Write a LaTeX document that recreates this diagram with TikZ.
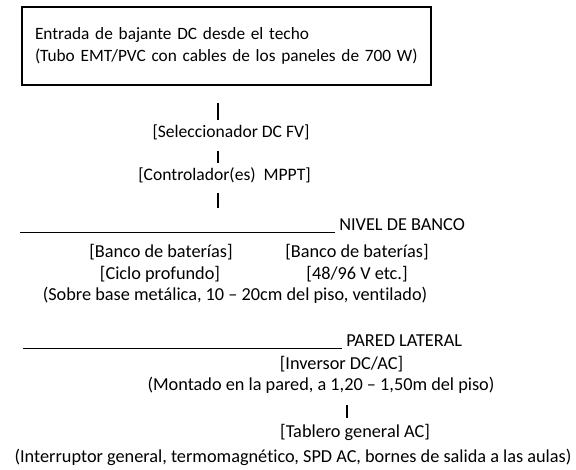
\documentclass[tikz,border=0pt]{standalone}
\usepackage{fontspec}
\setmainfont{Carlito}[Ligatures=NoCommon]
\tikzset{
  txt/.style={inner sep=0pt, anchor=base, font=\fontsize{13}{16}\selectfont},
  toptxt/.style={inner sep=0pt, anchor=base, font=\fontsize{12.5}{15}\selectfont},
  riser/.style={line width=1.2pt},
  levelline/.style={line width=0.7pt}
}
\begin{document}
\begin{tikzpicture}[]
                \useasboundingbox (0,0) rectangle (14.4,11.75);
                \node[draw, line width=0.9pt, minimum width=10.225cm, minimum height=1.95cm, inner xsep=0.325cm, text width=9.575cm, align=left, font=\fontsize{12.3}{16}\selectfont] (roof) at (5.6625,10.6) {Entrada de bajante DC desde el techo\\(Tubo EMT/PVC con cables de los paneles de 700 W)};
                \node[toptxt] (seccionador) at (5.775,8.3) {[Seleccionador DC FV]};
                \node[toptxt] (mppt) at (5.6125,7.225) {[Controlador(es)\ \ MPPT]};
                \coordinate (r1a) at (5.45,9.175);
                \coordinate (r1b) at (5.45,8.75);
                \coordinate (r2a) at (5.45,7.975);
                \coordinate (r2b) at (5.45,7.675);
                \coordinate (r3a) at (5.45,6.925);
                \coordinate (r3b) at (5.45,6.55);
                \draw[riser] (r1a) -- (r1b);
                \draw[riser] (r2a) -- (r2b);
                \draw[riser] (r3a) -- (r3b);
                \coordinate (banco a) at (0.5,5.95);
                \coordinate (banco b) at (8.375,5.95);
                \draw[levelline] (banco a) -- (banco b);
                \node[txt, anchor=base west] (nivel) at (8.475,5.975) {NIVEL DE BANCO};
                \node[txt] (bat1) at (4.025,5.3) {[Banco de baterías]};
                \node[txt] (bat2) at (8.925,5.3) {[Banco de baterías]};
                \node[txt] (ciclo) at (4.0,4.75) {[Ciclo profundo]};
                \node[txt] (volt) at (8.925,4.75) {[48/96 V etc.]};
                \node[txt] (base) at (5.875,4.225) {(Sobre base metálica, 10 – 20cm del piso, ventilado)};
                \coordinate (pared a) at (0.575,3.05);
                \coordinate (pared b) at (8.55,3.05);
                \draw[levelline] (pared a) -- (pared b);
                \node[txt, anchor=base west] (pared) at (8.65,3.075) {PARED LATERAL};
                \node[txt] (inversor) at (8.5375,2.5) {[Inversor DC/AC]};
                \node[txt] (montado) at (8.025,1.975) {(Montado en la pared, a 1,20 – 1,50m del piso)};
                \coordinate (r4a) at (8.675,1.625);
                \coordinate (r4b) at (8.675,1.3);
                \draw[riser] (r4a) -- (r4b);
                \node[txt] (tablero) at (8.875,0.8) {[Tablero general AC]};
                \node[txt] (salidas) at (7.325,0.175) {(Interruptor general, termomagnético, SPD AC, bornes de salida a las aulas)};
            \end{tikzpicture}
\end{document}
